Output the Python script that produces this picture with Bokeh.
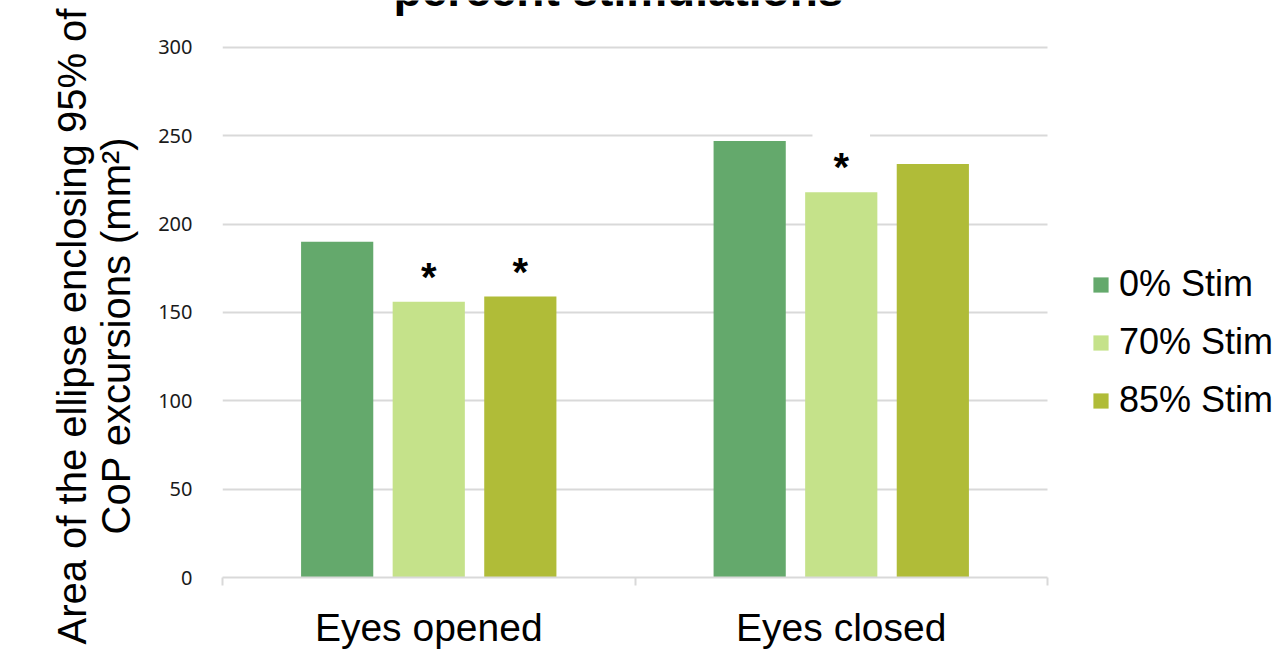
from bokeh.plotting import figure
from bokeh.models import FixedTicker, Legend, LegendItem, Label, Range1d, Title
from bokeh.embed import file_html
from bokeh.resources import INLINE

# --- data -------------------------------------------------------------
conditions = ["Eyes opened", "Eyes closed"]
series = ["0% Stim", "70% Stim", "85% Stim"]
colors = ["#64A96C", "#C5E28A", "#B0BC38"]
stim_0 = [190, 247]
stim_70 = [156, 218]
stim_85 = [159, 234]
series_values = [stim_0, stim_70, stim_85]
# significance markers (*) per series and condition
sig_0 = [False, False]
sig_70 = [True, True]
sig_85 = [True, False]
series_sig = [sig_0, sig_70, sig_85]
y_ticks = [0, 50, 100, 150, 200, 250, 300]

title_text = "percent stimulations"
ylabel_line1 = "Area of the ellipse enclosing 95% of"
ylabel_line2 = "CoP excursions (mm\u00b2)"

# --- layout -----------------------------------------------------------
W, H = 1275, 651
LEFT, BOTTOM = 222, 73
AXIS_TOP_PX = 47          # pixel row of the 300 gridline
PLOT_W = 825              # width of the bar area (categories 0..n)
GROUP_OFFSET = 0.222
BAR_WIDTH = 0.175
FONT = "Liberation Sans"
GRID = "#d9d9d9"

# the frame runs to the top and right edges so the title and legend can
# sit inside it; axis and grid are bounded to the bar area
frame_h = H - BOTTOM
frame_w = W - LEFT
n = len(conditions)
y_end = y_ticks[-1] * frame_h / (frame_h - AXIS_TOP_PX)
x_end = n * frame_w / PLOT_W

p = figure(
    width=W, height=H,
    x_range=Range1d(0, x_end), y_range=Range1d(0, y_end),
    output_backend="svg", toolbar_location=None,
    min_border_left=LEFT, min_border_right=0,
    min_border_top=0, min_border_bottom=BOTTOM,
)
p.outline_line_color = None
p.background_fill_color = "white"
p.border_fill_color = "white"

# y axis: labels only, light horizontal grid
p.yaxis.ticker = FixedTicker(ticks=y_ticks)
p.yaxis.axis_line_color = None
p.yaxis.major_tick_line_color = None
p.yaxis.minor_tick_line_color = None
p.yaxis.major_label_standoff = 24
p.yaxis.major_label_text_font = "Noto Sans"
p.yaxis.major_label_text_font_size = "20px"
p.yaxis.major_label_text_color = "#1a1a1a"
p.yaxis.axis_label = None
p.xgrid.grid_line_color = None

ygrid = p.ygrid[0]
if "cross_bounds" in ygrid.properties():
    ygrid.ticker = FixedTicker(ticks=y_ticks)
    ygrid.grid_line_color = GRID
    ygrid.grid_line_width = 2
    ygrid.cross_bounds = (0, n)
else:
    ygrid.grid_line_color = None
    p.segment(x0=[0] * len(y_ticks), x1=[n] * len(y_ticks), y0=y_ticks, y1=y_ticks,
              line_color=GRID, line_width=2, level="underlay")

# x axis: category names at centres, tick marks at group boundaries
centers = [i + 0.5 for i in range(n)]
p.xaxis.ticker = FixedTicker(ticks=centers, minor_ticks=list(range(n + 1)))
p.xaxis.bounds = (0, n)
p.xaxis.major_label_overrides = {c: name for c, name in zip(centers, conditions)}
p.xaxis.axis_line_color = GRID
p.xaxis.axis_line_width = 2
p.xaxis.major_tick_line_color = None
p.xaxis.minor_tick_line_color = GRID
p.xaxis.minor_tick_line_width = 2
p.xaxis.minor_tick_in = 0
p.xaxis.minor_tick_out = 8
p.xaxis.major_label_standoff = 20
p.xaxis.major_label_text_font = FONT
p.xaxis.major_label_text_font_size = "39px"
p.xaxis.major_label_text_color = "black"
p.xaxis.axis_label = None

# --- bars -------------------------------------------------------------
items = []
for j, (name, vals, col, sig) in enumerate(zip(series, series_values, colors, series_sig)):
    xs = [c + (j - 1) * GROUP_OFFSET for c in centers]
    r = p.vbar(x=xs, top=vals, width=BAR_WIDTH, fill_color=col, line_color=None)
    items.append(LegendItem(label=name, renderers=[r]))
    for x, v, s in zip(xs, vals, sig):
        if s:
            p.add_layout(Label(
                x=x, y=v, y_offset=31, text="*",
                text_align="center", text_baseline="middle",
                text_font=FONT, text_font_size="40px", text_font_style="bold",
                text_color="black",
                background_fill_color="white",
                padding=dict(left=21, right=21, top=12, bottom=0),
            ))

legend = Legend(
    items=items, location=(869, 156), orientation="vertical",
    glyph_width=19, glyph_height=19, label_standoff=9, spacing=16,
    padding=0, margin=0, border_line_color=None, background_fill_alpha=0,
    label_text_font=FONT, label_text_font_size="36px", label_text_color="black",
)
p.add_layout(legend)

# --- rotated y label, two lines (inner line first) ---------------------
p.add_layout(Title(
    text=ylabel_line2, align="left", offset=43, vertical_align="bottom",
    standoff=36, text_font=FONT, text_font_size="40px",
    text_font_style="normal", text_color="black",
), "left")
p.add_layout(Title(
    text=ylabel_line1, align="left", offset=-67, vertical_align="bottom",
    standoff=-40, text_font=FONT, text_font_size="40px",
    text_font_style="normal", text_color="black",
), "left")

# --- title, partly above the top edge ---------------------------------
p.add_layout(Label(
    x=618 - LEFT, y=frame_h + 10, x_units="screen", y_units="screen",
    text=title_text, text_align="center", text_baseline="alphabetic",
    text_font=FONT, text_font_size="46px", text_font_style="bold",
    text_color="black",
))

open("out.html", "w").write(file_html(p, INLINE))
